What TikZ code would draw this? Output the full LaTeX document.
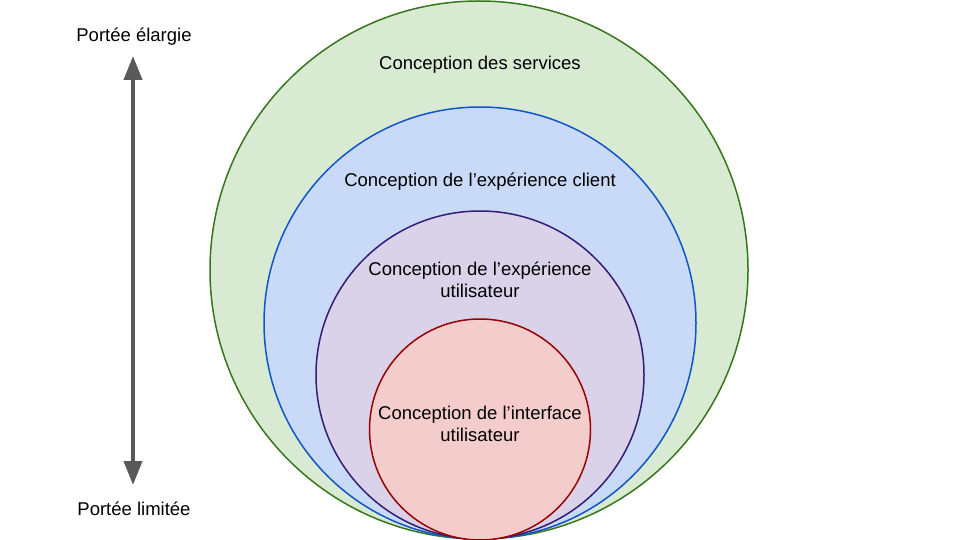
\documentclass[tikz,border=0pt]{standalone}
\usepackage{fontspec}
\setmainfont{Liberation Sans}
\usetikzlibrary{arrows.meta}
\definecolor{gfill}{HTML}{D9EAD3}\definecolor{gline}{HTML}{38761D}
\definecolor{bfill}{HTML}{C9DAF8}\definecolor{bline}{HTML}{1155CC}
\definecolor{pfill}{HTML}{D9D2E9}\definecolor{pline}{HTML}{351C75}
\definecolor{rfill}{HTML}{F4CCCC}\definecolor{rline}{HTML}{990000}
\definecolor{arrowgray}{HTML}{595959}
\begin{document}
\begin{tikzpicture}[x=1pt,y=-1pt,
  ring/.style={circle,draw,line width=1.5pt,inner sep=0pt},
  lbl/.style={font=\fontsize{18.5}{22}\selectfont,align=center,inner sep=0pt},
  side/.style={font=\fontsize{18.5}{22}\selectfont,inner sep=0pt}]
\useasboundingbox (0,0) rectangle (960,540);
\node[ring,fill=gfill,draw=gline,minimum size=538pt] (green) at (479,270) {};
\node[ring,fill=bfill,draw=bline,minimum size=432pt] (blue) at (480,323) {};
\node[ring,fill=pfill,draw=pline,minimum size=328pt] (purple) at (480,375) {};
\node[ring,fill=rfill,draw=rline,minimum size=221pt] (red) at (480,429.5) {};
\node[lbl] (t1) at (480,65) {Conception des services};
\node[lbl] (t2) at (480,182) {Conception de l’expérience client};
\node[lbl] (t3) at (480,280) {Conception de l’expérience\\utilisateur};
\node[lbl] (t4) at (480,424) {Conception de l’interface\\utilisateur};
\node[side] (top) at (134,37) {Portée élargie};
\node[side] (bot) at (134,509) {Portée limitée};
\coordinate (a1) at (133,56);
\coordinate (a2) at (133,485);
\draw[arrowgray,line width=4pt,{Triangle[length=24pt,width=18pt]}-{Triangle[length=24pt,width=18pt]}] (a1) -- (a2);
\end{tikzpicture}
\end{document}
